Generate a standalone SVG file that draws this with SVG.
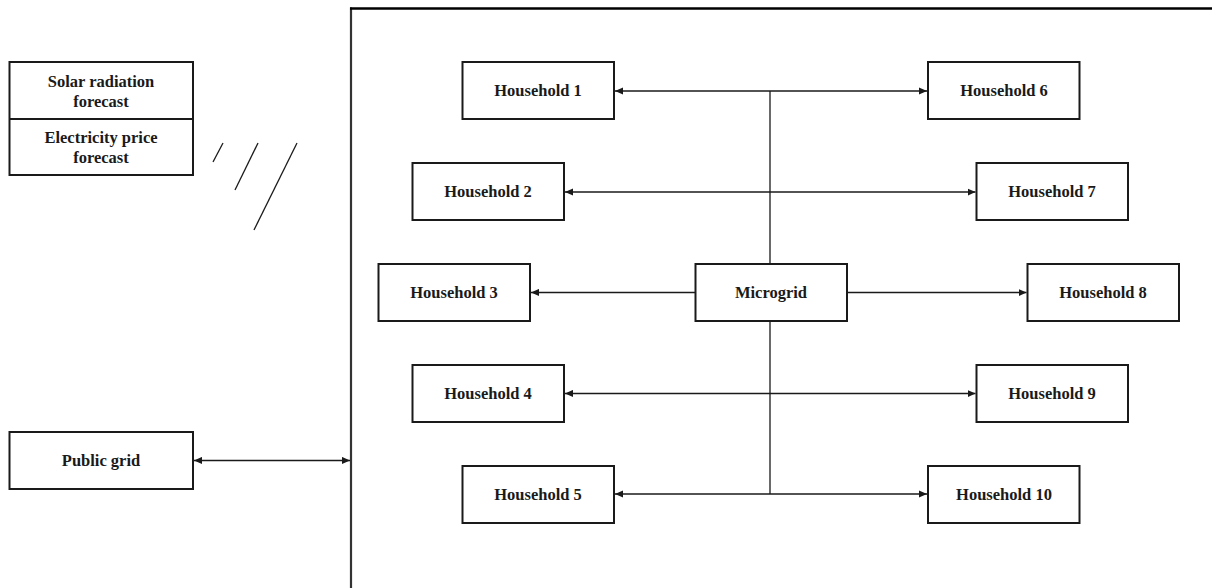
<svg xmlns="http://www.w3.org/2000/svg" width="1212" height="588" viewBox="0 0 1212 588">
<style>
.box{fill:#fff;stroke:#1a1a1a;stroke-width:2}
.t{font-family:"Liberation Serif","Times New Roman",serif;font-weight:bold;font-size:16.5px;fill:#1a1a1a;text-anchor:middle;dominant-baseline:central}
.c{fill:none;stroke:#1a1a1a;stroke-width:1.3}
.s{fill:none;stroke:#1a1a1a;stroke-width:1.3}
</style>
<defs>
<marker id="ah" viewBox="0 0 10 10" refX="10" refY="5" markerWidth="8" markerHeight="8" markerUnits="userSpaceOnUse" orient="auto-start-reverse">
<path d="M0,0.5 L10,5 L0,9.5 z" fill="#1a1a1a"/>
</marker>
</defs>
<rect width="1212" height="588" fill="#fff"/>
<g id="frame">
<line x1="351" y1="7.5" x2="351" y2="600" stroke="#333" stroke-width="2.2"/>
<line x1="350" y1="8.5" x2="1220" y2="8.5" stroke="#000" stroke-width="2.4"/>
</g>
<g id="forecasts">
<rect class="box" x="9.5" y="62" width="183.5" height="113"/>
<line x1="9.5" y1="119" x2="193" y2="119" stroke="#1a1a1a" stroke-width="2"/>
<text class="t" x="101" y="81">Solar radiation</text>
<text class="t" x="101" y="101">forecast</text>
<text class="t" x="101" y="137">Electricity price</text>
<text class="t" x="101" y="157">forecast</text>
</g>
<g id="signal-lines">
<line class="s" x1="223" y1="143" x2="213" y2="162"/>
<line class="s" x1="258" y1="143" x2="235" y2="190"/>
<line class="s" x1="297" y1="143" x2="254" y2="230"/>
</g>
<g id="public-grid">
<rect class="box" x="9.5" y="432" width="183.5" height="57"/>
<text class="t" x="101" y="460.5">Public grid</text>
</g>
<g id="microgrid">
<rect class="box" x="695.5" y="264" width="151.5" height="57"/>
<text class="t" x="771" y="292.5">Microgrid</text>
</g>
<g id="household-1"><rect class="box" x="462.5" y="62" width="151.5" height="57"/><text class="t" x="538" y="90.5">Household 1</text></g>
<g id="household-2"><rect class="box" x="412.5" y="163" width="151.5" height="57"/><text class="t" x="488" y="191.5">Household 2</text></g>
<g id="household-3"><rect class="box" x="378.5" y="264" width="151.5" height="57"/><text class="t" x="454" y="292.5">Household 3</text></g>
<g id="household-4"><rect class="box" x="412.5" y="365" width="151.5" height="57"/><text class="t" x="488" y="393.5">Household 4</text></g>
<g id="household-5"><rect class="box" x="462.5" y="466" width="151.5" height="57"/><text class="t" x="538" y="494.5">Household 5</text></g>
<g id="household-6"><rect class="box" x="928" y="62" width="151.5" height="57"/><text class="t" x="1004" y="90.5">Household 6</text></g>
<g id="household-7"><rect class="box" x="976.5" y="163" width="151.5" height="57"/><text class="t" x="1052" y="191.5">Household 7</text></g>
<g id="household-8"><rect class="box" x="1027.5" y="264" width="151.5" height="57"/><text class="t" x="1103" y="292.5">Household 8</text></g>
<g id="household-9"><rect class="box" x="976.5" y="365" width="151.5" height="57"/><text class="t" x="1052" y="393.5">Household 9</text></g>
<g id="household-10"><rect class="box" x="928" y="466" width="151.5" height="57"/><text class="t" x="1004" y="494.5">Household 10</text></g>
<g id="connectors">
<line class="c" x1="194" y1="460.5" x2="350" y2="460.5" marker-start="url(#ah)" marker-end="url(#ah)"/>
<line class="c" x1="770" y1="91" x2="770" y2="264"/>
<line class="c" x1="770" y1="321" x2="770" y2="494"/>
<line class="c" x1="615" y1="91" x2="927" y2="91" marker-start="url(#ah)" marker-end="url(#ah)"/>
<line class="c" x1="565" y1="192" x2="975.5" y2="192" marker-start="url(#ah)" marker-end="url(#ah)"/>
<line class="c" x1="695" y1="292.5" x2="531" y2="292.5" marker-end="url(#ah)"/>
<line class="c" x1="847" y1="292.5" x2="1026.5" y2="292.5" marker-end="url(#ah)"/>
<line class="c" x1="565" y1="393.5" x2="975.5" y2="393.5" marker-start="url(#ah)" marker-end="url(#ah)"/>
<line class="c" x1="615" y1="494" x2="927" y2="494" marker-start="url(#ah)" marker-end="url(#ah)"/>
</g>
</svg>
